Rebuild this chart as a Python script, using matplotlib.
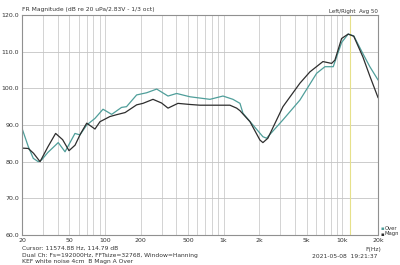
import matplotlib
matplotlib.use("Agg")
import matplotlib.pyplot as plt
from matplotlib.ticker import FixedLocator, NullFormatter

magn_freq = [20, 22.6, 25, 28.4, 33, 38.4, 44, 49.8, 56, 62, 70.2, 82.4, 90.8, 100, 110, 125,
             148, 185, 209, 254, 300, 340, 412, 520, 632, 879, 1130, 1288, 1374, 1668, 2023,
             2144, 2361, 3162, 4396, 5340, 6870, 8130, 8670, 9870, 11220, 12500, 14900, 17000, 20000]
magn_db = [83.7, 83.6, 82.3, 80.0, 84.0, 87.7, 86.0, 83.0, 84.5, 87.5, 90.5, 88.9, 90.9, 91.6, 92.3, 92.8,
           93.4, 95.5, 95.9, 97.0, 96.0, 94.6, 95.9, 95.6, 95.4, 95.4, 95.4, 94.6, 93.9, 90.9, 85.9,
           85.2, 86.4, 95.0, 101.4, 104.5, 107.3, 106.8, 107.7, 113.6, 114.8, 114.2, 108.6, 103.5, 97.5]

over_freq = [20, 22.6, 24.9, 27.4, 29.3, 33, 40.4, 46.1, 55.9, 61.6, 70.2, 82.4, 96.3, 114, 138, 152,
             185, 225, 273, 340, 402, 520, 767, 988, 1199, 1374, 1456, 2144, 2301, 3162, 4396,
             6080, 7140, 8390, 9870, 11220, 12500, 14900, 17000, 20000]
over_db = [89.1, 84.1, 80.9, 80.0, 80.5, 82.5, 85.2, 82.7, 87.7, 87.3, 90.0, 91.8, 94.3, 92.9, 94.8, 95.0,
           98.2, 98.8, 99.8, 97.9, 98.6, 97.7, 97.0, 97.9, 97.0, 95.9, 93.2, 86.8, 86.4, 91.4, 96.8,
           104.1, 105.9, 105.9, 112.5, 114.8, 114.3, 109.5, 106.0, 102.3]

xtick_vals = [20, 50, 100, 200, 500, 1000, 2000, 5000, 10000, 20000]
xtick_labels = ["20", "50", "100", "200", "500", "1k", "2k", "5k", "10k", "20k"]
ytick_vals = [60, 70, 80, 90, 100, 110, 120]
cursor_freq = 11574.88

fig = plt.figure(figsize=(4.0, 2.65), dpi=100)
ax = fig.add_axes([22/400, 1-235/265, 356/400, 220/265])
ax.set_xscale("log")
ax.set_xlim(20, 20000)
ax.set_ylim(60, 120)

minor = []
for d in [10, 100, 1000, 10000]:
    for m in range(1, 10):
        v = d * m
        if 20 <= v <= 20000:
            minor.append(v)
ax.xaxis.set_major_locator(FixedLocator(xtick_vals))
ax.set_xticklabels(xtick_labels)
ax.xaxis.set_minor_locator(FixedLocator(minor))
ax.xaxis.set_minor_formatter(NullFormatter())
ax.set_yticks(ytick_vals)
ax.set_yticklabels([f"{v:.1f}" for v in ytick_vals])
ax.grid(True, which="both", axis="x", color="#cccccc", lw=0.6)
ax.grid(True, which="major", axis="y", color="#c4c4c4", lw=0.6)
ax.tick_params(which="both", length=0, labelsize=4.5, pad=2, colors="#333333")
for s in ax.spines.values():
    s.set_color("#909090")
    s.set_linewidth(0.8)

ax.axvline(cursor_freq, color="#e6e08a", lw=0.8)
ax.plot(over_freq, over_db, color="#4f9e9a", lw=0.9)
ax.plot(magn_freq, magn_db, color="#2e2e2e", lw=0.9)

fs = 4.3
fig.text(22/400, 1-10/265, "FR Magnitude (dB re 20 uPa/2.83V - 1/3 oct)", fontsize=fs, va="center", ha="left", color="#333333")
fig.text(378/400, 1-11/265, "Left/Right  Avg 50", fontsize=fs-0.3, va="center", ha="right", color="#333333")
fig.text(22/400, 1-248/265, "Cursor: 11574.88 Hz, 114.79 dB", fontsize=fs, va="center", ha="left", color="#333333")
fig.text(22/400, 1-255.5/265, "Dual Ch: Fs=192000Hz, FFTsize=32768, Window=Hanning", fontsize=fs, va="center", ha="left", color="#333333")
fig.text(22/400, 1-261.5/265, "KEF white noise 4cm  B Magn A Over", fontsize=fs, va="center", ha="left", color="#333333")
fig.text(373/400, 1-249/265, "F(Hz)", fontsize=fs, va="center", ha="center", color="#333333")
fig.text(378/400, 1-256/265, "2021-05-08  19:21:37", fontsize=fs, va="center", ha="right", color="#333333")
lfs = 3.8
fig.text(380.5/400, 1-228/265, "\u25aa", fontsize=lfs, va="center", ha="left", color="#4f9e9a")
fig.text(384.5/400, 1-228/265, "Over", fontsize=lfs, va="center", ha="left", color="#333333")
fig.text(380.5/400, 1-234/265, "\u25aa", fontsize=lfs, va="center", ha="left", color="#2e2e2e")
fig.text(384.5/400, 1-234/265, "Magn", fontsize=lfs, va="center", ha="left", color="#333333")

fig.savefig("out.png", dpi=100)
